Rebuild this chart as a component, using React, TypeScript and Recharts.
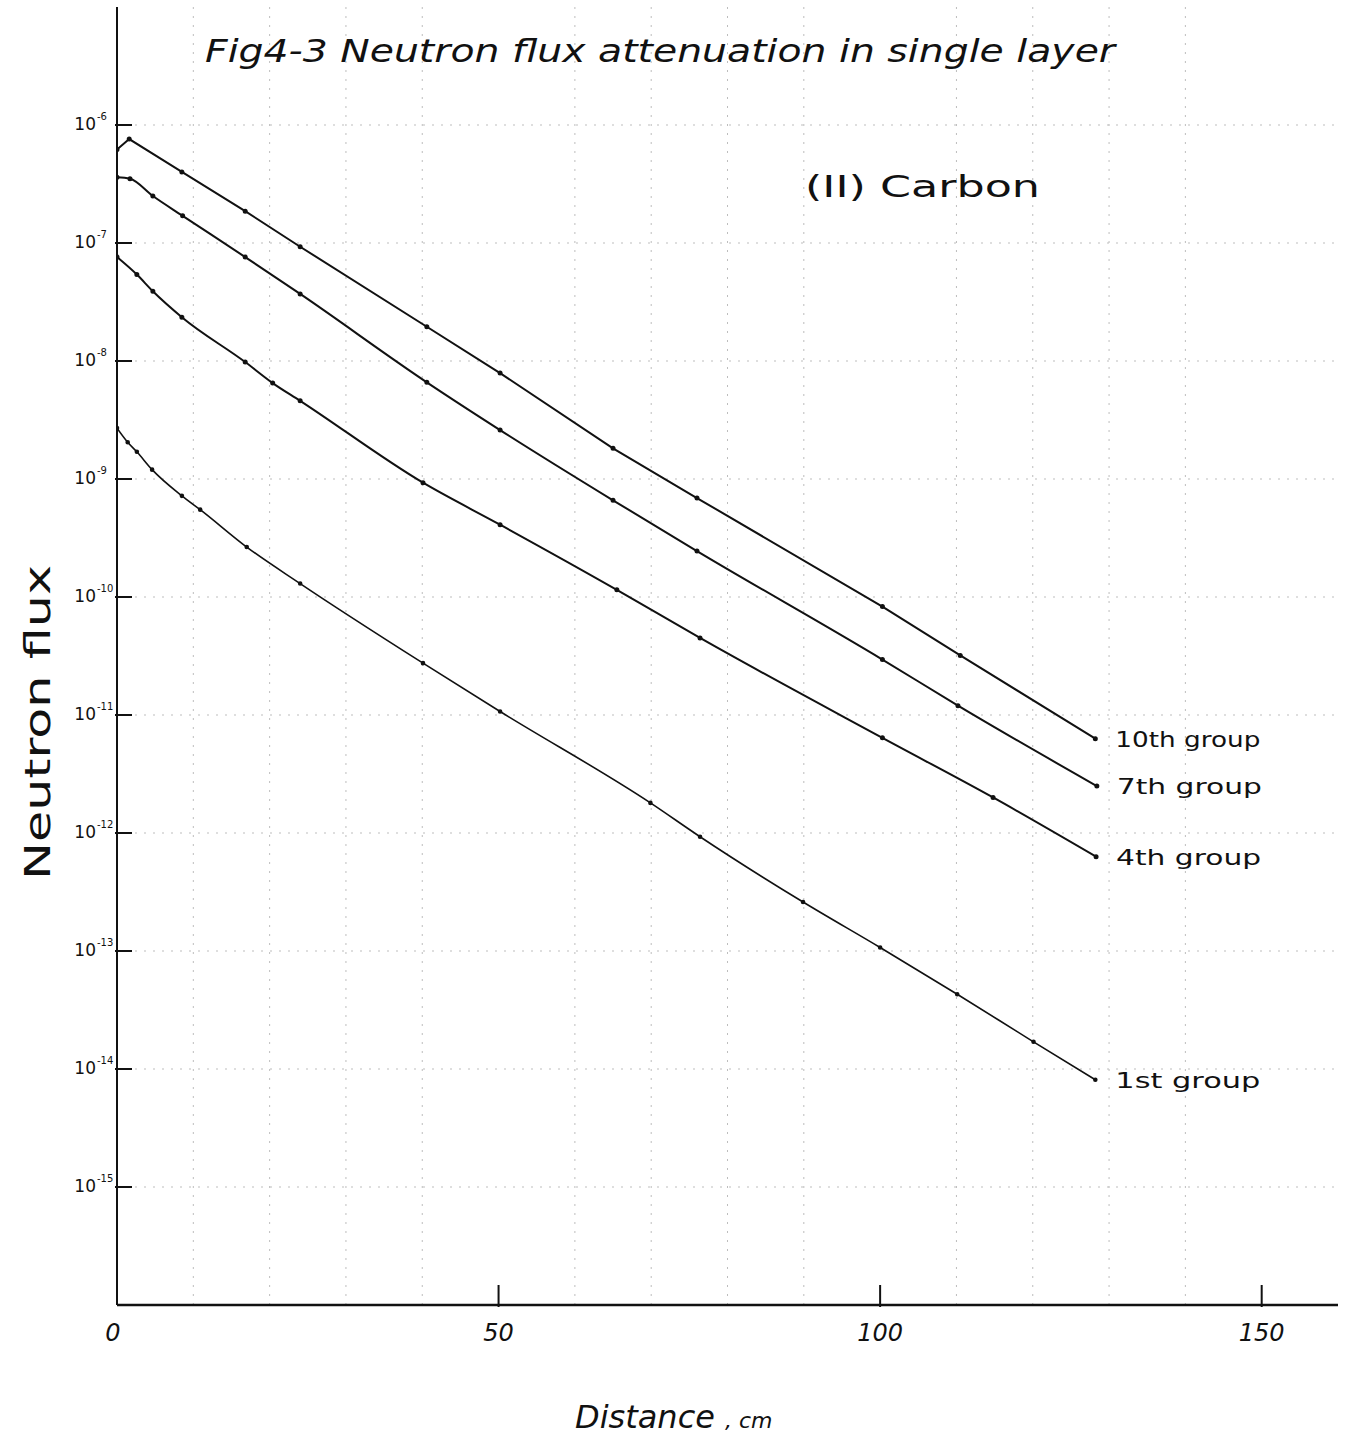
import { LineChart, Line, XAxis, YAxis, ReferenceLine, LabelList } from 'recharts'

// distance (cm) / flux
const DIST_10 = [0, 1.6, 8.5, 16.8, 24, 40.6, 50.2, 65, 76, 100.3, 110.5, 128.2]
const FLUX_10 = [6.2e-7, 7.6e-7, 4.0e-7, 1.86e-7, 9.3e-8, 1.95e-8, 7.9e-9, 1.82e-9, 6.9e-10, 8.3e-11, 3.2e-11, 6.3e-12]

const DIST_7 = [0, 1.7, 4.7, 8.6, 16.8, 24, 40.6, 50.2, 65, 76, 100.3, 110.2, 128.4]
const FLUX_7 = [3.6e-7, 3.5e-7, 2.5e-7, 1.7e-7, 7.6e-8, 3.7e-8, 6.6e-9, 2.6e-9, 6.6e-10, 2.45e-10, 2.95e-11, 1.2e-11, 2.5e-12]

const DIST_4 = [0, 2.6, 4.7, 8.5, 16.8, 20.4, 24, 40.1, 50.2, 65.5, 76.4, 100.3, 114.8, 128.3]
const FLUX_4 = [7.6e-8, 5.4e-8, 3.9e-8, 2.35e-8, 9.8e-9, 6.5e-9, 4.6e-9, 9.3e-10, 4.1e-10, 1.15e-10, 4.5e-11, 6.4e-12, 2.0e-12, 6.3e-13]

const DIST_1 = [0, 1.4, 2.6, 4.6, 8.5, 10.9, 17, 24, 40.1, 50.2, 69.9, 76.4, 89.9, 100, 110.1, 120.1, 128.2]
const FLUX_1 = [2.7e-9, 2.05e-9, 1.7e-9, 1.2e-9, 7.2e-10, 5.5e-10, 2.65e-10, 1.3e-10, 2.75e-11, 1.07e-11, 1.8e-12, 9.3e-13, 2.6e-13, 1.07e-13, 4.3e-14, 1.7e-14, 8.1e-15]

const SERIES_NAMES = ['10th group', '7th group', '4th group', '1st group']

const X_TICKS = [0, 50, 100, 150]
const Y_TICKS = [1e-6, 1e-7, 1e-8, 1e-9, 1e-10, 1e-11, 1e-12, 1e-13, 1e-14, 1e-15]
const Y_EXPONENTS = ['-6', '-7', '-8', '-9', '-10', '-11', '-12', '-13', '-14', '-15']

const GRID_X = [10, 20, 30, 40, 60, 70, 80, 90, 110, 120, 130, 140]
const GRID_Y = [1e-6, 1e-7, 1e-8, 1e-9, 1e-10, 1e-11, 1e-12, 1e-13, 1e-14, 1e-15]

const toRows = (xs: number[], ys: number[]) => xs.map((x, i) => ({ x, y: ys[i] }))

const series = [
  toRows(DIST_10, FLUX_10),
  toRows(DIST_7, FLUX_7),
  toRows(DIST_4, FLUX_4),
  toRows(DIST_1, FLUX_1),
]

const INK = '#111'
const HAND = '"DejaVu Sans", sans-serif'

function YTick(props: any) {
  const { x, y, index } = props
  return (
    <g>
      <line x1={x} x2={x + 17} y1={y} y2={y} stroke={INK} strokeWidth={2} />
      <text x={x - 19} y={y + 5} textAnchor="end" fontSize={17} fill={INK} fontFamily={HAND}>
        10
      </text>
      <text x={x - 18} y={y - 5} textAnchor="start" fontSize={10} fill={INK} fontFamily={HAND}>
        {Y_EXPONENTS[index]}
      </text>
    </g>
  )
}

function XTick(props: any) {
  const { x, y, payload } = props
  return (
    <g>
      {payload.value > 0 && <line x1={x} x2={x} y1={y} y2={y - 22} stroke={INK} strokeWidth={2} />}
      <text x={payload.value === 0 ? x - 4 : x} y={y + 34} textAnchor="middle" fontSize={24}
        fontStyle="italic" fill={INK} fontFamily={HAND}>
        {payload.value}
      </text>
    </g>
  )
}

function EndLabel(name: string, last: number) {
  return (props: any) => {
    const { x, y, index } = props
    if (index !== last) return null
    return (
      <text x={x + 20} y={y + 8} fontSize={22} fill={INK} fontFamily={HAND} textLength={145}
        lengthAdjust="spacingAndGlyphs">
        {name}
      </text>
    )
  }
}

export default function App() {
  return (
    <div style={{ position: 'absolute', left: 0, top: 0, width: 1350, height: 1440, background: '#fff' }}>
      <LineChart width={1350} height={1440} margin={{ top: 7, right: 12, bottom: 0, left: 0 }}>
        <XAxis type="number" dataKey="x" domain={[0, 160]} ticks={X_TICKS} allowDataOverflow
          height={135} tickSize={0} tickLine={false} tick={<XTick />}
          axisLine={{ stroke: INK, strokeWidth: 2.5 }} />
        <YAxis type="number" dataKey="y" scale="log" domain={[1e-16, 1e-5]} ticks={Y_TICKS}
          allowDataOverflow width={117} tickSize={0} tickLine={false} tick={<YTick />}
          axisLine={{ stroke: INK, strokeWidth: 2 }} />
        {GRID_X.map((v) => (
          <ReferenceLine key={'gx' + v} x={v} stroke="#bdbdbd" strokeDasharray="2 7" />
        ))}
        {GRID_Y.map((v) => (
          <ReferenceLine key={'gy' + v} y={v} stroke="#bdbdbd" strokeDasharray="2 7" />
        ))}
        {series.map((rows, i) => (
          <Line key={SERIES_NAMES[i]} data={rows} dataKey="y" type={i === 0 ? 'linear' : 'monotone'}
            stroke={INK} strokeWidth={i === 3 ? 1.6 : 2} isAnimationActive={false}
            dot={{ r: 1.5, fill: INK, stroke: INK }}>
            <LabelList dataKey="y" content={EndLabel(SERIES_NAMES[i], rows.length - 1)} />
          </Line>
        ))}
      </LineChart>
      <svg width={1350} height={1440} style={{ position: 'absolute', left: 0, top: 0, pointerEvents: 'none' }}>
        <text x={205} y={62} fontSize={32} fontStyle="italic" fill={INK} fontFamily={HAND}
          textLength={910} lengthAdjust="spacingAndGlyphs">
          Fig4-3 Neutron flux attenuation in single layer
        </text>
        <text x={805} y={197} fontSize={30} fill={INK} fontFamily={HAND} textLength={235}
          lengthAdjust="spacingAndGlyphs">
          (II) Carbon
        </text>
        <text x={50} y={880} transform="rotate(-90, 50, 880)" fontSize={36} fill={INK} fontFamily={HAND}
          textLength={315} lengthAdjust="spacingAndGlyphs">
          Neutron flux
        </text>
        <text x={575} y={1428} fontSize={32} fontStyle="italic" fill={INK} fontFamily={HAND}>
          Distance
          <tspan fontSize={22} dx={10}>, cm</tspan>
        </text>
      </svg>
    </div>
  )
}
